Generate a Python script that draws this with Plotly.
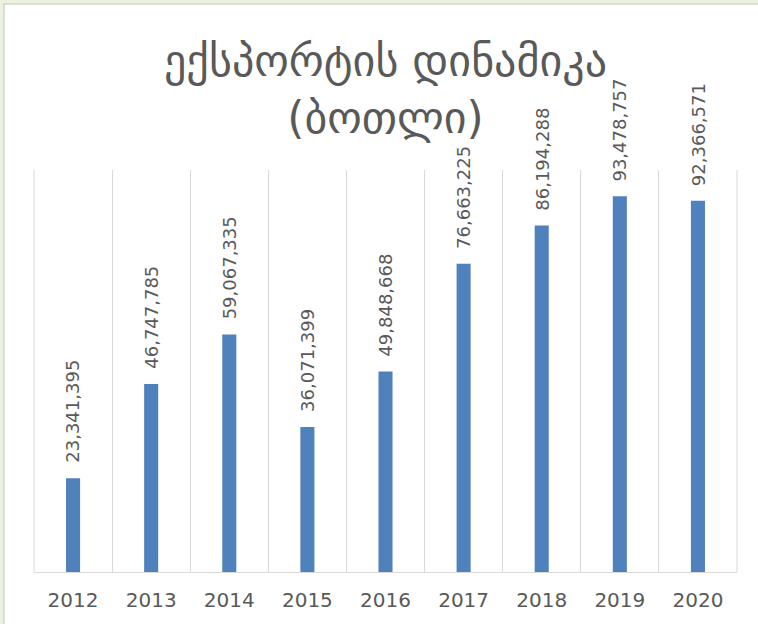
import plotly.graph_objects as go

years = ["2012", "2013", "2014", "2015", "2016", "2017", "2018", "2019", "2020"]
values = [23341395, 46747785, 59067335, 36071399, 49848668, 76663225, 86194288, 93478757, 92366571]
title_text = "ექსპორტის დინამიკა<br>(ბოთლი)"

W, H = 758, 624
L, R, T, B = 34, 21, 170, 52
pw, ph = W - L - R, H - T - B

def px_x(p):
    return (p - L) / pw

def px_y(p):
    return (H - B - p) / ph

fig = go.Figure()
fig.add_trace(go.Bar(x=years, y=values, marker=dict(color="#4F81BD", line=dict(width=0))))

for i, v in enumerate(values):
    fig.add_annotation(x=i, y=v, xref="x", yref="y", text=f"{v:,}", textangle=-90, showarrow=False,
                       yanchor="bottom", yshift=13,
                       font=dict(family="DejaVu Sans", size=18, color="#595959"))

shapes = [
    dict(type="rect", xref="paper", yref="paper", x0=px_x(4), x1=px_x(W + 50), y0=px_y(H + 50), y1=px_y(4),
         fillcolor="white", line=dict(color="#D3D3D3", width=1.5), layer="below"),
    dict(type="line", xref="paper", yref="paper", x0=0, x1=0, y0=0, y1=1, line=dict(color="#D9D9D9", width=1)),
    dict(type="line", xref="paper", yref="paper", x0=1, x1=1, y0=0, y1=1, line=dict(color="#D9D9D9", width=1)),
]

fig.update_layout(
    width=W, height=H,
    margin=dict(l=L, r=R, t=T, b=B),
    paper_bgcolor="#EAF1DD",
    plot_bgcolor="rgba(0,0,0,0)",
    bargap=0.82,
    showlegend=False,
    shapes=shapes,
    title=dict(text=title_text, x=0.5, xref="paper", xanchor="center",
               y=1 - 76 / H, yanchor="middle",
               font=dict(family="DejaVu Sans", size=44, color="#595959")),
    xaxis=dict(type="category", categoryorder="array", categoryarray=years, range=[-0.5, len(years) - 0.5],
               tickson="boundaries", showgrid=True, gridcolor="#D9D9D9", gridwidth=1,
               showline=True, linecolor="#D9D9D9", linewidth=1, ticks="", tickangle=0,
               ticklabelstandoff=10,
               tickfont=dict(family="DejaVu Sans", size=20, color="#595959")),
    yaxis=dict(range=[0, 100000000], showgrid=False, showticklabels=False, zeroline=False, showline=False),
)

fig.write_html("out.html", config={"displayModeBar": False},
               post_script="document.body.style.margin='0';document.body.style.padding='0';")
